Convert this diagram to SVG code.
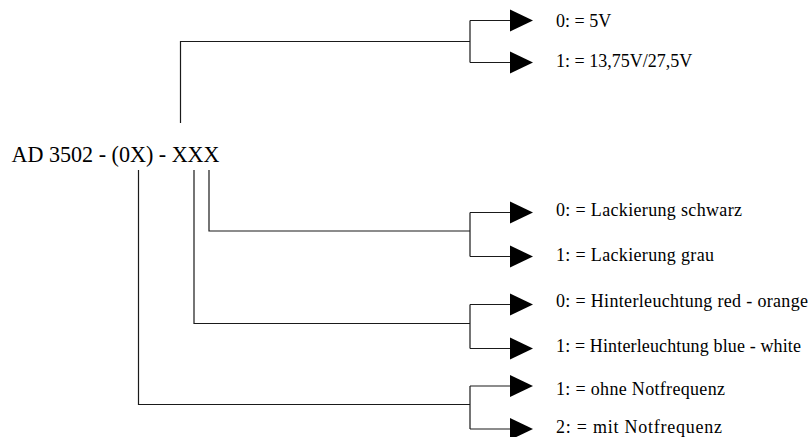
<svg xmlns="http://www.w3.org/2000/svg" xmlns:xlink="http://www.w3.org/1999/xlink" width="812" height="437" viewBox="0 0 812 437">
<style>
.ln{fill:none;stroke:#1a1a1a;stroke-width:1.2}
.ar{fill:#000}
.t{font-family:"Liberation Serif","Times New Roman",serif;font-size:18px;fill:#000}
.m{font-family:"Liberation Serif","Times New Roman",serif;font-size:23px;fill:#000}
</style>
<defs>
<path id="arr" class="ar" d="M0,-11 L23,0 L0,11 Z"/>
</defs>
<rect width="812" height="437" fill="#fff"/>
<g id="connectors">
<path class="ln" d="M180.5,123 V41.5 H470 M470,20.5 V62.5 M470,20.5 H510 M470,62.5 H510"/>
<path class="ln" d="M209,170 V231 H470 M470,212.5 V256.5 M470,212.5 H510 M470,256.5 H510"/>
<path class="ln" d="M194,170 V323.5 H470 M470,304.5 V348.5 M470,304.5 H510 M470,348.5 H510"/>
<path class="ln" d="M138.5,170 V404.5 H470 M470,386 V429 M470,386 H510 M470,429 H510"/>
<use xlink:href="#arr" x="510" y="20.5"/>
<use xlink:href="#arr" x="510" y="62.5"/>
<use xlink:href="#arr" x="510" y="212.5"/>
<use xlink:href="#arr" x="510" y="256.5"/>
<use xlink:href="#arr" x="510" y="304.5"/>
<use xlink:href="#arr" x="510" y="348.5"/>
<use xlink:href="#arr" x="510" y="386"/>
<use xlink:href="#arr" x="510" y="429"/>
</g>
<g id="main"><text class="m" x="11.5" y="161.5" textLength="208" lengthAdjust="spacingAndGlyphs">AD 3502 - (0X) - XXX</text></g>
<g id="v0"><text class="t" x="556" y="27">0: = 5V</text></g>
<g id="v1"><text class="t" x="556" y="67">1: = 13,75V/27,5V</text></g>
<g id="l0"><text class="t" x="556" y="216" textLength="186">0: = Lackierung schwarz</text></g>
<g id="l1"><text class="t" x="556" y="260.5" textLength="158">1: = Lackierung grau</text></g>
<g id="h0"><text class="t" x="556" y="307" textLength="252">0: = Hinterleuchtung red - orange</text></g>
<g id="h1"><text class="t" x="556" y="352" textLength="245">1: = Hinterleuchtung blue - white</text></g>
<g id="n1"><text class="t" x="556" y="394.5" textLength="169">1: = ohne Notfrequenz</text></g>
<g id="n2"><text class="t" x="556" y="433" textLength="166">2: = mit Notfrequenz</text></g>
</svg>
